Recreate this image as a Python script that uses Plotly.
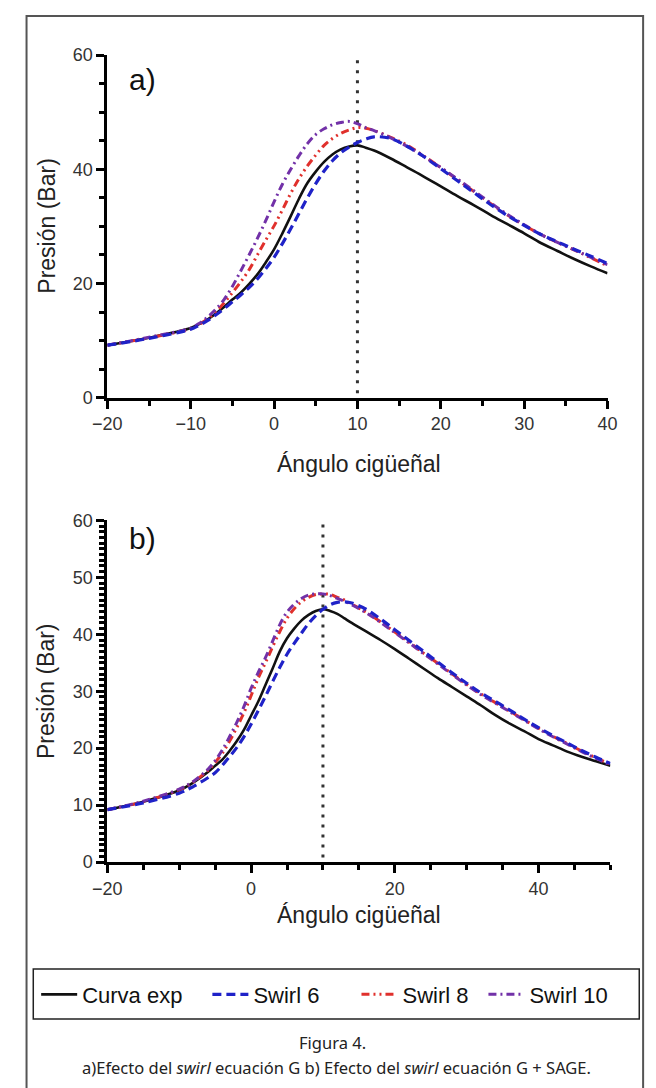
import plotly.graph_objects as go

# ---------------- data ----------------
angle_a = [-20, -15, -10, -9, -8, -7, -6, -5, -4, -3, -2, -1, 0, 1, 2, 3, 4, 5, 6, 7, 8, 9, 10,
           11, 12, 14, 16, 18, 20, 22, 24, 26, 28, 30, 32, 34, 36, 38, 40]
exp_a = [9.2, 10.5, 12.2, 12.9, 13.7, 14.7, 15.9, 17.2, 18.4, 19.9, 21.6, 23.7, 26.0, 28.8, 31.8,
         34.9, 37.6, 39.6, 41.3, 42.6, 43.5, 44.0, 44.2, 43.8, 43.3, 41.9, 40.3, 38.7, 37.0, 35.3,
         33.7, 32.0, 30.4, 28.8, 27.1, 25.7, 24.3, 23.0, 21.8]
swirl6_a = [9.2, 10.4, 12.0, 12.7, 13.5, 14.5, 15.6, 16.8, 18.0, 19.3, 20.8, 22.6, 24.6, 27.0, 29.6,
            32.3, 35.0, 37.5, 39.7, 41.5, 42.9, 43.9, 44.7, 45.3, 45.7, 45.4, 44.0, 42.2, 40.1, 38.0,
            35.9, 33.8, 31.9, 30.2, 28.6, 27.3, 26.0, 24.8, 23.5]
swirl8_a = [9.2, 10.5, 12.1, 12.8, 13.8, 15.0, 16.6, 18.4, 20.3, 22.4, 25.0, 27.6, 30.1, 32.9, 35.8,
            38.4, 40.6, 42.5, 44.2, 45.4, 46.3, 46.9, 47.3, 47.2, 46.8, 45.6, 44.2, 42.3, 40.3, 38.2,
            36.1, 34.0, 32.0, 30.2, 28.6, 27.2, 25.9, 24.5, 23.1]
swirl10_a = [9.2, 10.6, 12.2, 13.0, 14.1, 15.5, 17.2, 19.5, 22.2, 25.0, 27.9, 31.0, 34.3, 37.4, 40.0,
             42.4, 44.5, 46.1, 47.1, 47.8, 48.2, 48.4, 48.0, 47.3, 46.8, 45.5, 44.0, 42.2, 40.3, 38.3,
             36.2, 34.1, 32.1, 30.3, 28.6, 27.2, 25.9, 24.6, 23.3]

angle_b = [-20, -15, -10, -8, -6, -5, -4, -3, -2, -1, 0, 1, 2, 3, 4, 5, 6, 7, 8, 9, 10, 11, 12, 13,
           14, 16, 18, 20, 22, 24, 26, 28, 30, 32, 34, 36, 38, 40, 42, 44, 46, 48, 50]
exp_b = [9.2, 10.6, 12.6, 14.0, 15.8, 16.9, 18.0, 19.5, 21.2, 23.2, 25.7, 28.2, 31.1, 34.0, 37.0,
         39.3, 41.0, 42.4, 43.4, 44.1, 44.4, 44.1, 43.6, 42.8, 42.0, 40.5, 39.0, 37.4, 35.7, 34.0,
         32.3, 30.7, 29.1, 27.5, 25.8, 24.3, 23.0, 21.6, 20.5, 19.4, 18.5, 17.7, 16.9]
swirl6_b = [9.2, 10.4, 12.1, 13.3, 14.8, 15.7, 17.0, 18.5, 20.1, 22.0, 24.2, 26.6, 29.1, 31.7, 34.2,
            36.5, 38.4, 40.2, 41.9, 43.3, 44.4, 45.2, 45.6, 45.7, 45.5, 44.4, 42.7, 40.8, 38.9, 37.0,
            35.1, 33.2, 31.4, 29.7, 28.2, 26.7, 25.1, 23.6, 22.2, 20.9, 19.6, 18.4, 17.3]
swirl8_b = [9.2, 10.6, 12.7, 14.1, 16.1, 17.5, 19.1, 21.2, 23.6, 26.2, 29.2, 32.3, 35.0, 37.8, 40.5,
            42.8, 44.5, 45.7, 46.5, 47.0, 47.1, 47.0, 46.5, 46.0, 45.3, 43.9, 42.2, 40.4, 38.6, 36.7,
            34.9, 33.0, 31.2, 29.5, 28.0, 26.5, 25.0, 23.5, 22.1, 20.8, 19.5, 18.3, 17.2]
swirl10_b = [9.2, 10.7, 12.8, 14.2, 16.3, 17.8, 19.7, 22.0, 24.5, 27.3, 30.5, 33.3, 35.9, 38.8, 41.7,
             43.9, 45.3, 46.3, 46.9, 47.1, 47.1, 46.8, 46.3, 45.8, 45.2, 43.8, 42.1, 40.3, 38.5, 36.6,
             34.8, 32.9, 31.1, 29.4, 27.9, 26.4, 24.9, 23.4, 22.0, 20.7, 19.4, 18.2, 17.1]

series_names = ["Curva exp", "Swirl 6", "Swirl 8", "Swirl 10"]
x_title = "Ángulo cigüeñal"
y_title = "Presión (Bar)"
caption_1 = "Figura 4."
caption_2 = "a)Efecto del <i>swirl</i> ecuación G b) Efecto del <i>swirl</i> ecuación G + SAGE."

# ---------------- styling ----------------
W, H = 656, 1088
styles = {
    "Curva exp": dict(color="#111111", width=2.6, dash="solid"),
    "Swirl 6": dict(color="#1f22c8", width=3.2, dash="9px,5px"),
    "Swirl 8": dict(color="#e0302c", width=3.0, dash="8px,4px,2px,4px,2px,4px"),
    "Swirl 10": dict(color="#7231a8", width=3.0, dash="8px,4px,2px,4px"),
}
draw_order = ["Curva exp", "Swirl 8", "Swirl 10", "Swirl 6"]
legend_ids = {"Curva exp": "legend", "Swirl 6": "legend2", "Swirl 8": "legend3", "Swirl 10": "legend4"}
legend_left_px = {"Curva exp": 22, "Swirl 6": 200, "Swirl 8": 355, "Swirl 10": 487}

def px_x(p):
    return p / W

def px_y(p):
    return 1 - p / H

fig = go.Figure()
panels = [
    ("x", "y", angle_a, {"Curva exp": exp_a, "Swirl 6": swirl6_a, "Swirl 8": swirl8_a, "Swirl 10": swirl10_a}),
    ("x2", "y2", angle_b, {"Curva exp": exp_b, "Swirl 6": swirl6_b, "Swirl 8": swirl8_b, "Swirl 10": swirl10_b}),
]
for pi, (xa, ya, xs, data) in enumerate(panels):
    for name in draw_order:
        st = styles[name]
        fig.add_trace(go.Scatter(
            x=xs, y=data[name], mode="lines", name=name, xaxis=xa, yaxis=ya,
            line=dict(color=st["color"], width=st["width"], dash=st["dash"], shape="spline", smoothing=1.0),
            showlegend=(pi == 0), legend=legend_ids[name], hoverinfo="skip",
        ))

tickfont = dict(family="Liberation Sans, Arial, sans-serif", size=18, color="#333333")
common = dict(showline=True, linecolor="#000000", linewidth=3, ticks="outside", ticklen=8,
              tickwidth=2.5, tickcolor="#000000", showgrid=False, zeroline=False, tickfont=tickfont,
              fixedrange=True)

def minor(d):
    return dict(ticks="outside", ticklen=5, tickwidth=2.5, tickcolor="#000000", dtick=d, showgrid=False)

legend_font = dict(family="Liberation Sans, Arial, sans-serif", size=22, color="#111111")
legend_layouts = {}
for name in series_names:
    legend_layouts[legend_ids[name]] = dict(
        orientation="h", x=px_x(legend_left_px[name]), y=px_y(1003), xanchor="left", yanchor="middle",
        bgcolor="rgba(0,0,0,0)", borderwidth=0, itemwidth=36, font=legend_font)

fig.update_layout(
    width=W, height=H, margin=dict(l=0, r=0, t=0, b=0),
    paper_bgcolor="white", plot_bgcolor="white",
    xaxis=dict(domain=[px_x(96), px_x(616)], range=[-20, 40], tick0=-20, dtick=10,
               minor=minor(5), anchor="y", **common),
    yaxis=dict(domain=[px_y(395), px_y(46)], range=[0, 60], tick0=0, dtick=20,
               minor=minor(5), anchor="x", **common),
    xaxis2=dict(domain=[px_x(96), px_x(619)], range=[-20, 50], tickvals=[-20, 0, 20, 40],
                minor=dict(ticks="outside", ticklen=5, tickwidth=2.5, tickcolor="#000000",
                           tickvals=[-15, -10, -5, 5, 10, 15, 25, 30, 35, 45, 50]),
                anchor="y2", **common),
    yaxis2=dict(domain=[px_y(868), px_y(520)], range=[0, 60], tick0=0, dtick=10,
                minor=minor(1), anchor="x2", **common),
    showlegend=True,
    **legend_layouts,
)

shapes = []
# outer frame
shapes.append(dict(type="rect", xref="paper", yref="paper", x0=px_x(12), x1=px_x(653),
                   y0=-0.05, y1=px_y(6), line=dict(color="#555555", width=2)))
# legend box
shapes.append(dict(type="rect", xref="paper", yref="paper", x0=px_x(19), x1=px_x(649),
                   y0=px_y(1028), y1=px_y(977), line=dict(color="#222222", width=1.5)))
# dotted vertical reference lines at 10 degrees
for xa, ya in (("x", "y"), ("x2", "y2")):
    shapes.append(dict(type="line", xref=xa, yref=ya, x0=10, x1=10, y0=0.8, y1=60,
                       line=dict(color="#333333", width=3, dash="3px,7px"), layer="below"))
fig.update_layout(shapes=shapes)

title_font = dict(family="Liberation Sans, Arial, sans-serif", size=23, color="#222222")
ann = []
ann.append(dict(text=y_title, x=px_x(33), y=px_y(220), xref="paper", yref="paper", textangle=-90,
                showarrow=False, font=title_font, xanchor="center", yanchor="middle"))
ann.append(dict(text=y_title, x=px_x(33), y=px_y(694), xref="paper", yref="paper", textangle=-90,
                showarrow=False, font=title_font, xanchor="center", yanchor="middle"))
ann.append(dict(text=x_title, x=px_x(358), y=px_y(463), xref="paper", yref="paper",
                showarrow=False, font=title_font, xanchor="center", yanchor="middle"))
ann.append(dict(text=x_title, x=px_x(358), y=px_y(922), xref="paper", yref="paper",
                showarrow=False, font=title_font, xanchor="center", yanchor="middle"))
panel_font = dict(family="Liberation Sans, Arial, sans-serif", size=30, color="#111111")
ann.append(dict(text="a)", x=px_x(116), y=px_y(71), xref="paper", yref="paper",
                showarrow=False, font=panel_font, xanchor="left", yanchor="middle"))
ann.append(dict(text="b)", x=px_x(116), y=px_y(538), xref="paper", yref="paper",
                showarrow=False, font=panel_font, xanchor="left", yanchor="middle"))
cap_font = dict(family="Noto Sans, Open Sans, sans-serif", size=16.5, color="#222222")
ann.append(dict(text=caption_1, x=px_x(330), y=px_y(1052), xref="paper", yref="paper",
                showarrow=False, font=cap_font, xanchor="center", yanchor="middle"))
ann.append(dict(text=caption_2, x=px_x(334), y=px_y(1077), xref="paper", yref="paper",
                showarrow=False, font=cap_font, xanchor="center", yanchor="middle"))
fig.update_layout(annotations=ann)

fig.write_html("out.html")
